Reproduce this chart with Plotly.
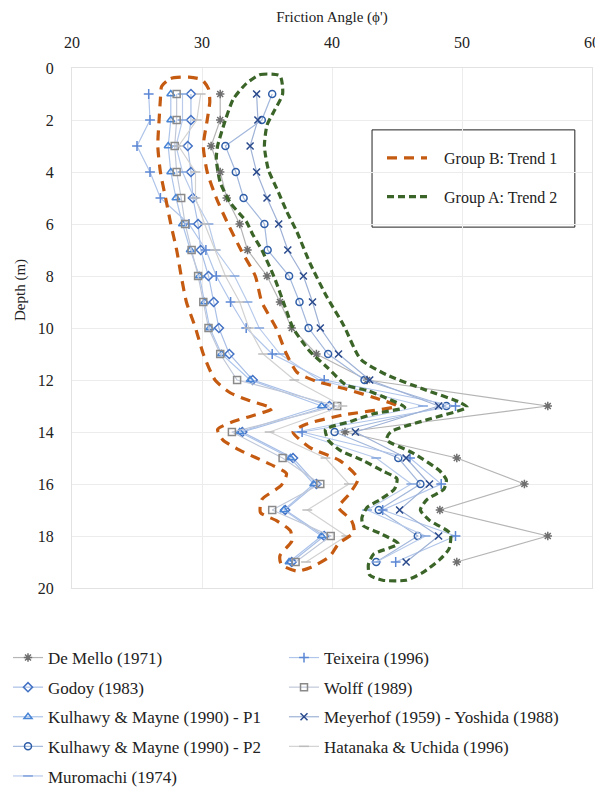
import plotly.graph_objects as go

# ---------------- data ----------------
depth = list(range(1, 20))

de_mello  = [31.4, 31.4, 30.7, 31.4, 31.9, 32.9, 33.5, 35.0, 36.0, 36.9, 38.8, 42.7, 56.6, 41.0, 49.6, 54.8, 48.3, 56.6, 49.6]
teixeira  = [25.9, 26.0, 25.0, 26.0, 26.8, 29.0, 30.3, 31.1, 32.2, 33.4, 35.4, 39.4, 49.5, 37.7, 46.0, 48.4, 43.9, 49.5, 44.9]
godoy     = [29.15, 29.15, 28.9, 29.15, 29.3, 29.7, 29.9, 30.5, 30.9, 31.3, 32.1, 33.9, 39.8, 33.1, 37.0, 38.8, 36.4, 39.4, 36.9]
wolff     = [28.05, 28.05, 27.9, 28.05, 28.4, 28.7, 29.2, 29.7, 30.1, 30.5, 31.4, 32.7, 40.4, 32.3, 36.2, 39.1, 35.4, 39.9, 37.2]
km_p1     = [27.6, 27.6, 27.4, 27.6, 28.0, 28.5, 29.1, 29.8, 30.2, 30.6, 31.5, 33.7, 39.2, 32.9, 36.8, 38.6, 36.3, 39.2, 36.7]
meyerhof  = [34.2, 34.3, 33.7, 34.2, 35.0, 35.9, 36.6, 37.8, 38.5, 39.1, 40.5, 42.9, 48.2, 41.8, 45.7, 47.5, 45.2, 48.2, 45.7]
km_p2     = [35.4, 34.6, 31.8, 32.6, 33.2, 34.8, 35.05, 36.7, 37.5, 38.2, 39.7, 42.5, 48.8, 40.2, 45.1, 46.8, 43.6, 46.6, 43.4]
hatanaka  = [29.9, 29.6, 28.2, 29.5, 29.5, 30.2, 31.0, 31.8, 32.9, 33.6, 34.7, 37.1, 40.8, 35.2, 39.5, 41.3, 38.1, 41.1, 38.0]
muromachi = [28.5, 28.5, 28.0, 28.5, 29.4, 30.5, 31.05, 32.5, 33.5, 34.4, 36.0, 39.0, 47.0, 37.3, 43.4, 46.1, 42.7, 47.2, 43.4]

# envelope traced around each group (angle, depth)
trend_b_angle = [26.9, 27.6, 29.0, 30.0, 30.5,
                 30.6, 30.4, 30.1, 30.4, 31.1, 32.0, 33.0, 34.1, 34.6, 35.7, 36.5, 37.3, 38.8, 41.1, 43.7, 45.0,
                 40.8, 38.0, 37.0, 38.3, 40.6, 42.0, 41.3, 40.5, 41.5, 41.7, 40.5, 39.8, 38.4,
                 37.3, 36.1,
                 36.0, 36.9, 36.8, 35.7, 34.5, 34.6, 36.1, 36.5, 35.5, 34.2, 32.9, 31.6, 31.2, 32.4, 33.7, 35.4,
                 33.7, 32.2, 31.0, 30.1, 29.5, 28.8, 28.4, 28.05, 27.6, 27.2, 26.8, 26.6, 26.7, 26.8, 26.9]
trend_b_depth = [0.7, 0.4, 0.35, 0.45, 0.8,
                 1.3, 2.0, 3.0, 4.0, 5.0, 6.0, 7.0, 8.0, 9.0, 10.0, 11.0, 11.7, 12.05, 12.35, 12.75, 13.0,
                 13.35, 13.7, 14.0, 14.6, 15.1, 15.8, 16.4, 16.9, 17.4, 17.85, 18.3, 18.8, 19.2,
                 19.35, 19.1,
                 18.75, 18.2, 17.8, 17.4, 17.1, 16.6, 16.05, 15.6, 15.3, 15.0, 14.7, 14.3, 13.9, 13.6, 13.4, 13.1,
                 12.8, 12.5, 12.0, 11.0, 10.0, 9.0, 8.0, 7.0, 6.0, 5.0, 4.0, 3.0, 2.0, 1.2, 0.7]

trend_a_angle = [33.4, 34.5, 36.0,
                 36.2, 35.5, 35.0, 34.8, 35.1, 35.9, 36.5, 37.3, 38.3, 39.6, 40.9, 42.2, 44.2, 47.3, 49.8, 50.4,
                 47.5, 44.5, 44.2, 46.2, 48.3, 48.8, 48.6, 47.3, 46.8, 47.5, 49.1, 49.0, 48.3, 47.0, 45.7,
                 43.9, 42.9,
                 42.8, 43.2, 45.1, 43.7, 42.4, 42.3, 42.7, 43.7, 44.8, 45.0, 43.9, 42.4, 40.6, 39.7, 39.5, 41.4, 43.2, 45.6,
                 44.2, 42.7, 41.1, 39.6, 38.3, 37.0, 36.4, 35.6, 34.6, 33.9, 33.4, 32.2, 31.4, 31.1, 31.2, 31.8, 32.4, 33.4]
trend_a_depth = [0.6, 0.25, 0.3,
                 1.0, 1.7, 2.2, 3.0, 3.9, 4.8, 5.5, 6.3, 7.5, 8.8, 9.9, 11.2, 11.8, 12.4, 12.85, 13.05,
                 13.5, 14.0, 14.3, 14.8, 15.5, 15.85, 16.2, 16.6, 17.0, 17.4, 17.9, 18.5, 18.9, 19.4, 19.7,
                 19.7, 19.5,
                 19.1, 18.7, 18.3, 17.9, 17.6, 17.3, 16.9, 16.6, 16.2, 15.8, 15.5, 15.1, 14.7, 14.3, 13.9, 13.6, 13.3, 13.05,
                 12.7, 12.4, 12.2, 11.5, 10.9, 10.0, 9.2, 8.1, 7.0, 6.4, 5.9, 5.2, 4.4, 3.5, 3.0, 2.0, 1.2, 0.6]

x_ticks = [20, 30, 40, 50, 60]
y_ticks = [0, 2, 4, 6, 8, 10, 12, 14, 16, 18, 20]

FONT = "Liberation Serif, Times New Roman, serif"
PAD = "\u00a0\u00a0\u00a0"  # small gap between legend line sample and its label

fig = go.Figure()

# (name, values, symbol, marker colour, line colour, legend)
series = [
    ("De Mello (1971)", de_mello, "asterisk-open", "#6f6f6f", "#b5b5b5", "legend"),
    ("Godoy (1983)", godoy, "diamond-open", "#4472c4", "#a9bfe6", "legend"),
    ("Kulhawy & Mayne (1990) - P1", km_p1, "triangle-up-open", "#4a86d6", "#adc4ea", "legend"),
    ("Kulhawy & Mayne (1990) - P2", km_p2, "circle-open", "#2f5ea8", "#a3b8dc", "legend"),
    ("Muromachi (1974)", muromachi, "line-ew-open", "#7fa2dc", "#b8cbeb", "legend"),
    ("Teixeira (1996)", teixeira, "cross-thin-open", "#5b87d4", "#b0c5ea", "legend2"),
    ("Wolff (1989)", wolff, "square-open", "#8a8a8a", "#c0c8d8", "legend2"),
    ("Meyerhof (1959) - Yoshida (1988)", meyerhof, "x-thin-open", "#2a4a8c", "#9fb2d6", "legend2"),
    ("Hatanaka & Uchida (1996)", hatanaka, "line-ew-open", "#bdbdbd", "#d2d2d2", "legend2"),
]

for name, vals, sym, mcol, lcol, lg in series:
    fig.add_trace(go.Scatter(
        x=vals, y=depth, name=name, mode="lines+markers",
        line=dict(color=lcol, width=1.2),
        marker=dict(symbol=sym, size=7, color=mcol, line=dict(color=mcol, width=1.5)),
        legend=lg, legendgroup=name,
    ))

fig.add_trace(go.Scatter(
    x=trend_b_angle, y=trend_b_depth, name=PAD + "Group B: Trend 1", mode="lines",
    line=dict(color="#c55a11", width=3.2, dash="10px,7px", shape="spline", smoothing=0.6),
    legend="legend3", legendgroup="b",
))
fig.add_trace(go.Scatter(
    x=trend_a_angle, y=trend_a_depth, name=PAD + "Group A: Trend 2", mode="lines",
    line=dict(color="#3b6428", width=3.2, dash="7px,4px", shape="spline", smoothing=0.6),
    legend="legend3", legendgroup="a",
))

# in-chart legend frame
fig.add_shape(type="rect", xref="paper", yref="paper",
              x0=0.577, x1=0.967, y0=0.694, y1=0.881,
              line=dict(color="#222", width=1), fillcolor="white", layer="below")

# y-axis title placed as in the reference
fig.add_annotation(text="Depth (m)", xref="paper", yref="paper",
                   x=-52/520, y=(588-290)/520, textangle=-90,
                   showarrow=False, font=dict(size=15), xanchor="center", yanchor="middle")

fig.update_layout(
    width=595, height=780,
    margin=dict(l=64, r=11, t=60, b=200, autoexpand=False),
    paper_bgcolor="white", plot_bgcolor="white",
    font=dict(family=FONT, size=15, color="#222"),
    xaxis=dict(
        side="top", range=[20, 60], tickvals=x_ticks, automargin=False,
        title=dict(text="Friction Angle (ϕ')", font=dict(size=15), standoff=7),
        tickfont=dict(size=16), ticks="outside", ticklen=13, tickcolor="white",
        showgrid=True, gridcolor="#ececec", gridwidth=1,
        showline=True, linecolor="#e2e2e2", mirror=True, zeroline=False,
    ),
    yaxis=dict(
        range=[20, 0], tickvals=y_ticks, automargin=False,
        tickfont=dict(size=16), ticks="outside", ticklen=14, tickcolor="white",
        showgrid=True, gridcolor="#ececec", gridwidth=1,
        showline=True, linecolor="#e2e2e2", mirror=True, zeroline=False,
    ),
    legend=dict(
        x=-64/520, y=-52/520, xref="paper", yref="paper",
        xanchor="left", yanchor="top", orientation="v",
        font=dict(size=17), tracegroupgap=4.5, itemwidth=30,
        bgcolor="rgba(0,0,0,0)",
    ),
    legend2=dict(
        x=212/520, y=-52/520, xref="paper", yref="paper",
        xanchor="left", yanchor="top", orientation="v",
        font=dict(size=17), tracegroupgap=4.5, itemwidth=30,
        bgcolor="rgba(0,0,0,0)",
    ),
    legend3=dict(
        x=310/520, y=(588-141)/520, xref="paper", yref="paper",
        xanchor="left", yanchor="top", orientation="v",
        font=dict(size=16), tracegroupgap=15, itemwidth=40,
        bgcolor="rgba(0,0,0,0)",
    ),
    showlegend=True,
)

fig.write_html("out.html")
